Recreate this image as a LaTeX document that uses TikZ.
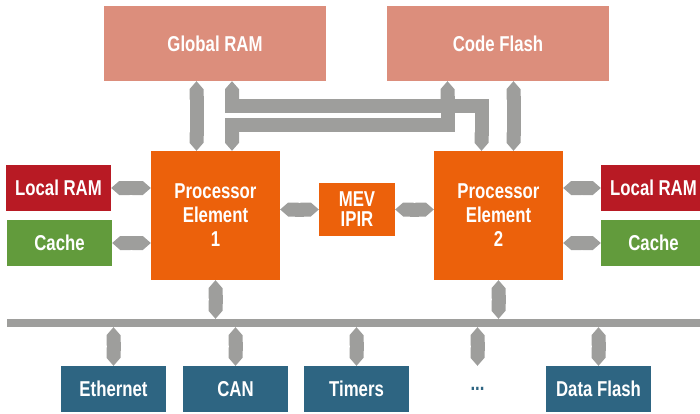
\documentclass[tikz,border=0pt]{standalone}
\usepackage{fontspec}
\setmainfont{Liberation Sans}[FakeStretch=0.78]
\usetikzlibrary{arrows.meta}
\definecolor{salmon}{HTML}{DC8E7C}
\definecolor{peorange}{HTML}{EC610B}
\definecolor{ramred}{HTML}{B81A24}
\definecolor{cachegreen}{HTML}{629B3C}
\definecolor{periblue}{HTML}{2E6582}
\definecolor{arrowgray}{HTML}{9E9E9C}
\begin{document}
\begin{tikzpicture}[x=1pt,y=-1pt,
  blk/.style={draw=none, inner sep=0pt, text=white, font=\bfseries\fontsize{21.5}{24}\selectfont, align=center},
  memblk/.style={blk, fill=salmon, minimum width=222pt, minimum height=75pt},
  peblk/.style={blk, fill=peorange, minimum width=129pt, minimum height=129pt},
  lramblk/.style={blk, fill=ramred, minimum width=105pt, minimum height=46pt},
  cacheblk/.style={blk, fill=cachegreen, minimum width=105pt, minimum height=46pt},
  periblk/.style={blk, fill=periblue, minimum width=105pt, minimum height=46pt},
  bar/.style={draw=arrowgray, line width=14pt, line join=miter,
    {Triangle Cap[length=8pt]}-{Triangle Cap[length=8pt]}},
  ]
\useasboundingbox (0,0) rectangle (700,414);
\clip (0,0) rectangle (700,414);
% top memories
\node[memblk] (gram) at (215,43.5) {Global RAM};
\node[memblk] (cflash) at (498,43.5) {Code Flash};
% processor elements
\node[peblk] (pe1) at (215.5,215.5) {Processor\\Element\\1};
\node[peblk] (pe2) at (498.5,215.5) {Processor\\Element\\2};
\node[blk, fill=peorange, minimum width=76pt, minimum height=53pt,
  font=\bfseries\fontsize{21.5}{20}\selectfont] (mev) at (357,209.5) {MEV\\IPIR};
% local memories
\node[lramblk] (lram1) at (58.5,188) {Local RAM};
\node[cacheblk] (cache1) at (59.5,243) {Cache};
\node[lramblk] (lram2) at (653.5,188) {Local RAM};
\node[cacheblk] (cache2) at (653.5,243) {Cache};
% bus
\node[fill=arrowgray, minimum width=693pt, minimum height=8pt, inner sep=0pt] (bus) at (353.5,323) {};
% peripherals
\node[periblk] (eth) at (113.5,389) {Ethernet};
\node[periblk] (can) at (235.5,389) {CAN};
\node[periblk] (tim) at (356.5,389) {Timers};
\node[blk, text=periblue, minimum width=105pt, minimum height=46pt] (dots) at (477.5,389) {...};
\node[periblk] (dflash) at (598.5,389) {Data Flash};
% coordinates for top connectors
\coordinate (p1a) at ([xshift=-19pt]pe1.north);
\coordinate (p1b) at ([xshift=16.5pt]pe1.north);
\coordinate (p2c) at ([xshift=-51pt]pe2.north);
\coordinate (p2a) at ([xshift=-17pt]pe2.north);
\coordinate (p2b) at ([xshift=15pt]pe2.north);
\coordinate (ya) at (0,106);
\coordinate (yb) at (0,125);
% top connectors
\draw[bar] (p1a |- gram.south) -- (p1a);
\draw[bar] (p2b |- cflash.south) -- (p2b);
\draw[bar] (p1b |- gram.south) -- (p1b |- ya) -- (p2a |- ya) -- (p2a);
\draw[bar] (p2c |- cflash.south) -- (p2c |- yb) -- (p1b |- yb) -- (p1b);
% side connectors
\draw[bar] (lram1.east) -- (lram1.east -| pe1.west);
\draw[bar] (cache1.east) -- (cache1.east -| pe1.west);
\draw[bar] (lram2.west -| pe2.east) -- (lram2.west);
\draw[bar] (cache2.west -| pe2.east) -- (cache2.west);
\draw[bar] (mev.west -| pe1.east) -- (mev.west);
\draw[bar] (mev.east) -- (mev.east -| pe2.west);
% bus connectors
\draw[bar] (pe1.south) -- (pe1.south |- bus.north);
\draw[bar] (pe2.south) -- (pe2.south |- bus.north);
\draw[bar] (eth.north |- bus.south) -- (eth.north);
\draw[bar] (can.north |- bus.south) -- (can.north);
\draw[bar] (tim.north |- bus.south) -- (tim.north);
\draw[bar] (dots.north |- bus.south) -- (dots.north);
\draw[bar] (dflash.north |- bus.south) -- (dflash.north);
\end{tikzpicture}
\end{document}
